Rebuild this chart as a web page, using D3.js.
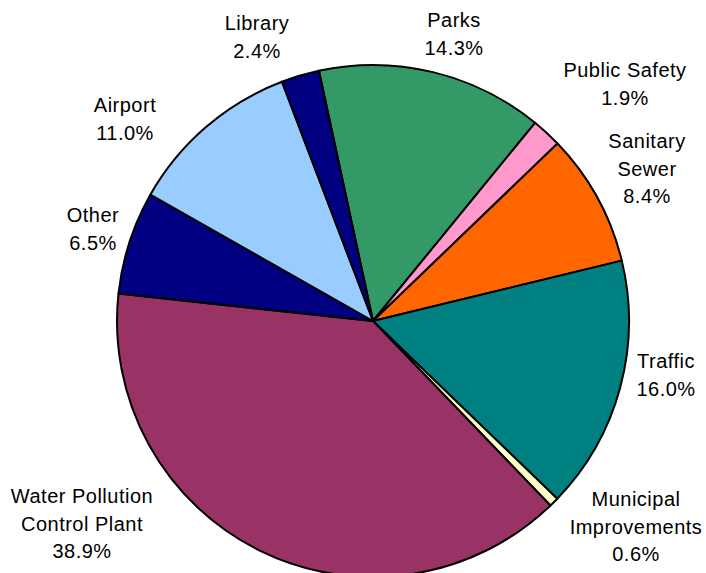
<!DOCTYPE html>
<html>
<head>
<meta charset="utf-8">
<script src="https://cdn.jsdelivr.net/npm/d3@7"></script>
<style>
  html, body { margin: 0; padding: 0; background: #fff; overflow: hidden; }
  svg { display: block; }
  .lbl { font-family: "Liberation Sans", Arial, sans-serif; font-size: 20px; letter-spacing: 0.5px; fill: #000; }
</style>
</head>
<body>
<svg id="chart" width="706" height="573"></svg>
<script>
// data, in clockwise order starting from Parks
var categories = ["Parks", "Public Safety", "Sanitary Sewer", "Traffic", "Municipal Improvements",
                  "Water Pollution Control Plant", "Other", "Airport", "Library"];
var shares = [14.3, 1.9, 8.4, 16.0, 0.6, 38.9, 6.5, 11.0, 2.4];
// how each label is broken into lines
var labelLines = [["Parks"], ["Public Safety"], ["Sanitary", "Sewer"], ["Traffic"],
                  ["Municipal", "Improvements"], ["Water Pollution", "Control Plant"],
                  ["Other"], ["Airport"], ["Library"]];
var colors = ["#339966", "#FF99CC", "#FF6600", "#008080", "#FFFFCC",
              "#993366", "#000080", "#99CCFF", "#000080"];

// layout: centre of each label block (x) and first baseline (y)
var labelPos = [[454, 27], [625, 77], [647, 148], [666, 368], [636, 506],
                [82, 503], [93, 222], [125, 112], [257, 30]];

var cx = 373, cy = 321, radius = 256;
var lineH = 27.5;
var startDeg = -12.2;

var svg = d3.select("#chart");
var g = svg.append("g").attr("transform", "translate(" + cx + "," + cy + ")");

var pie = d3.pie()
    .sort(null)
    .value(function (d) { return d; })
    .startAngle(startDeg * Math.PI / 180)
    .endAngle(startDeg * Math.PI / 180 + 2 * Math.PI);

var arc = d3.arc().innerRadius(0).outerRadius(radius);

var arcs = pie(shares);

g.selectAll("path.slice")
    .data(arcs)
    .enter().append("path")
    .attr("class", "slice")
    .attr("d", arc)
    .style("fill", function (d, i) { return colors[i]; })
    .style("stroke", "#000")
    .style("stroke-width", "2px")
    .style("stroke-linejoin", "round");

// labels
var fmt = d3.format(".1f");
var labels = svg.selectAll("text.lbl")
    .data(arcs)
    .enter().append("text")
    .attr("class", "lbl")
    .attr("text-anchor", "middle");

labels.each(function (d, i) {
    var t = d3.select(this);
    var lines = labelLines[i].concat([fmt(shares[i]) + "%"]);
    var x = labelPos[i][0], y = labelPos[i][1];
    lines.forEach(function (s, k) {
        t.append("tspan")
            .attr("x", x)
            .attr("y", y + k * lineH)
            .text(s);
    });
});
</script>
</body>
</html>
